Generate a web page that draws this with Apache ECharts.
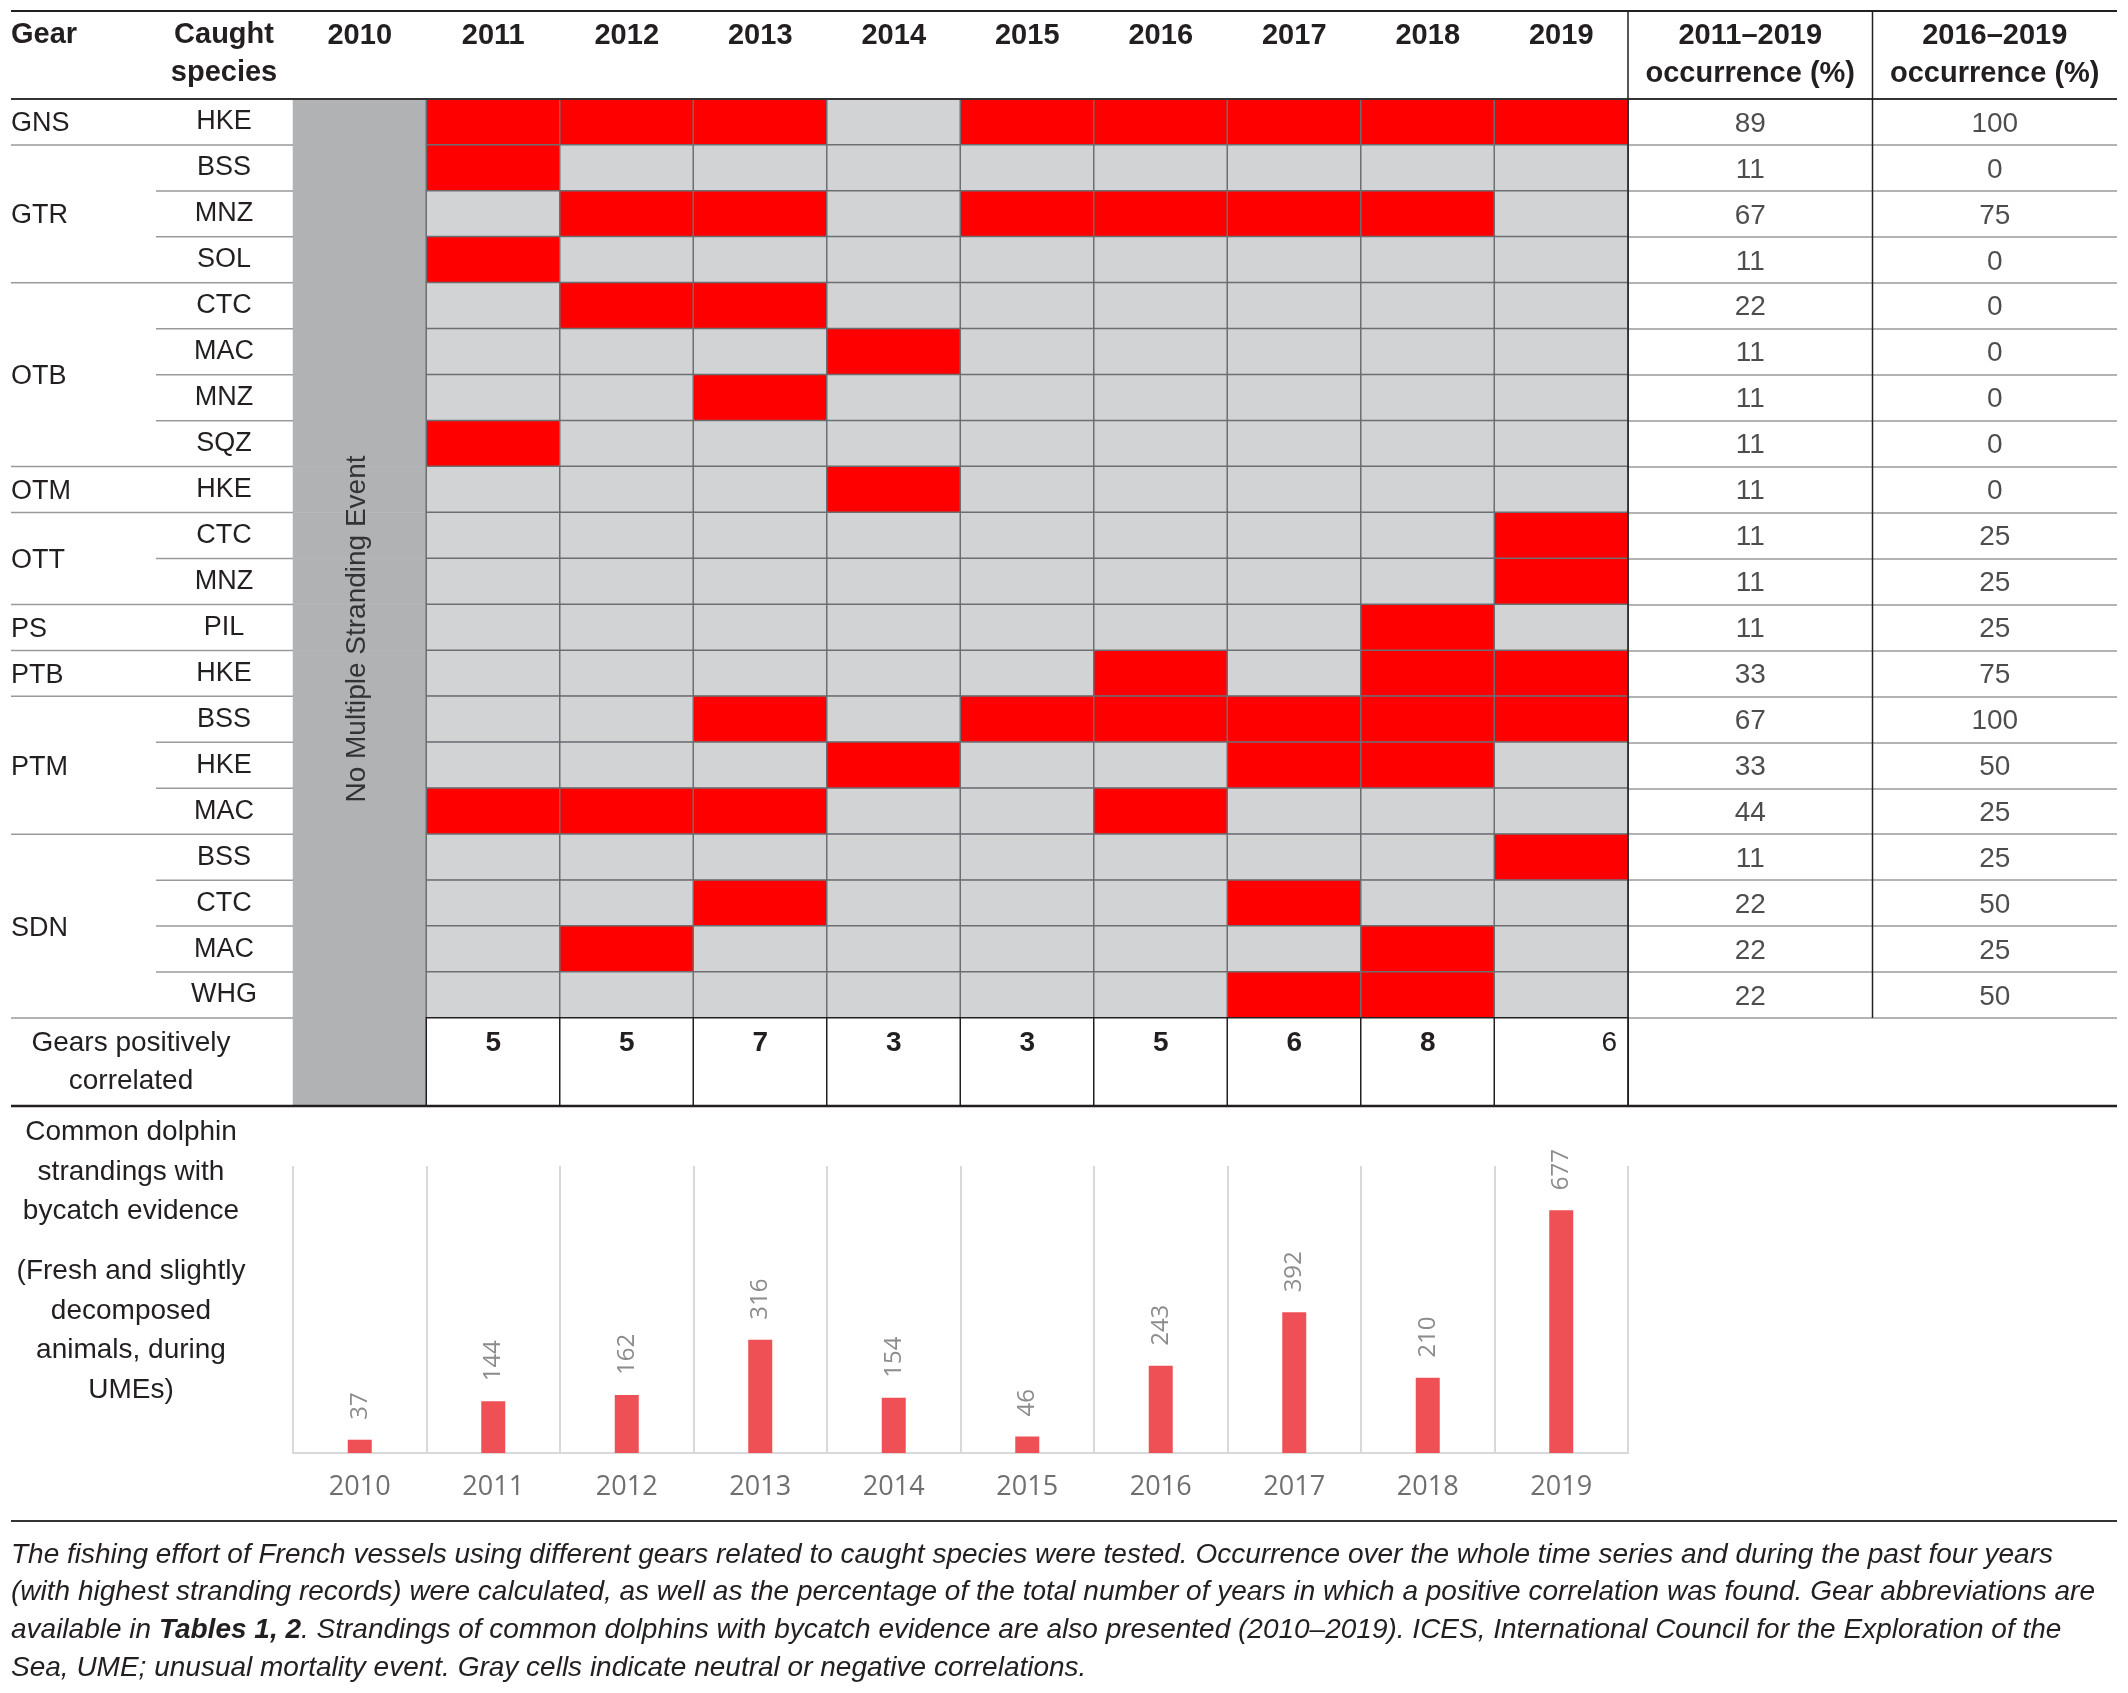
<!DOCTYPE html>
<html>
<head>
<meta charset="utf-8">
<script src="https://cdn.jsdelivr.net/npm/echarts@6/dist/echarts.min.js"></script>
<style>
  html, body { margin: 0; padding: 0; background: #fff; }
  #chart { width: 2128px; height: 1693px; }
</style>
</head>
<body>
<div id="chart"></div>
<script>
// ---- data ----
var years = ['2010', '2011', '2012', '2013', '2014', '2015', '2016', '2017', '2018', '2019'];
var rowGear = ['GNS', 'GTR', 'GTR', 'GTR', 'OTB', 'OTB', 'OTB', 'OTB', 'OTM', 'OTT',
               'OTT', 'PS', 'PTB', 'PTM', 'PTM', 'PTM', 'SDN', 'SDN', 'SDN', 'SDN'];
var rowSpecies = ['HKE', 'BSS', 'MNZ', 'SOL', 'CTC', 'MAC', 'MNZ', 'SQZ', 'HKE', 'CTC',
                  'MNZ', 'PIL', 'HKE', 'BSS', 'HKE', 'MAC', 'BSS', 'CTC', 'MAC', 'WHG'];
// positive correlation (1) or not (0), years 2011..2019
var positive = [
    [1, 1, 1, 0, 1, 1, 1, 1, 1],
    [1, 0, 0, 0, 0, 0, 0, 0, 0],
    [0, 1, 1, 0, 1, 1, 1, 1, 0],
    [1, 0, 0, 0, 0, 0, 0, 0, 0],
    [0, 1, 1, 0, 0, 0, 0, 0, 0],
    [0, 0, 0, 1, 0, 0, 0, 0, 0],
    [0, 0, 1, 0, 0, 0, 0, 0, 0],
    [1, 0, 0, 0, 0, 0, 0, 0, 0],
    [0, 0, 0, 1, 0, 0, 0, 0, 0],
    [0, 0, 0, 0, 0, 0, 0, 0, 1],
    [0, 0, 0, 0, 0, 0, 0, 0, 1],
    [0, 0, 0, 0, 0, 0, 0, 1, 0],
    [0, 0, 0, 0, 0, 1, 0, 1, 1],
    [0, 0, 1, 0, 1, 1, 1, 1, 1],
    [0, 0, 0, 1, 0, 0, 1, 1, 0],
    [1, 1, 1, 0, 0, 1, 0, 0, 0],
    [0, 0, 0, 0, 0, 0, 0, 0, 1],
    [0, 0, 1, 0, 0, 0, 1, 0, 0],
    [0, 1, 0, 0, 0, 0, 0, 1, 0],
    [0, 0, 0, 0, 0, 0, 1, 1, 0]
];
var occHeaders = ['2011\u20132019\noccurrence (%)', '2016\u20132019\noccurrence (%)'];
var occAll = [89, 11, 67, 11, 22, 11, 11, 11, 11, 11, 11, 11, 33, 67, 33, 44, 11, 22, 22, 22];
var occRecent = [100, 0, 75, 0, 0, 0, 0, 0, 0, 25, 25, 25, 75, 100, 50, 25, 25, 50, 25, 50];
var gearsCorrelated = [null, 5, 5, 7, 3, 3, 5, 6, 8, 6];
var strandings = [37, 144, 162, 316, 154, 46, 243, 392, 210, 677];

// ---- layout ----
var FONT = '"Liberation Sans", Arial, Helvetica, sans-serif';
var INK = '#231f20';
var tableLeft = 11, tableRight = 2117, speciesLeft = 156;
var colLeft = 293, colWidth = 1335;
var headTop = 11, headBottom = 99, bodyBottom = 1018, gearsBottom = 1106;
var occLeft = colLeft + colWidth, occWidth = tableRight - occLeft;
var barTop = 1166, barBottom = 1453, captionRule = 1521;

// gear groups (consecutive rows with same gear)
var gearGroups = [];
rowGear.forEach(function (g, i) {
    var last = gearGroups[gearGroups.length - 1];
    if (last && last.name === g) { last.last = i; }
    else { gearGroups.push({ name: g, first: i, last: i }); }
});

var cellData = [];
rowSpecies.forEach(function (s, r) {
    years.forEach(function (y, c) {
        if (c === 0) {
            cellData.push({ value: [c, r, -1], itemStyle: { borderWidth: 0 } });
        } else {
            cellData.push([c, r, positive[r][c - 1]]);
        }
    });
});

var gearsRowData = years.map(function (y, c) {
    if (c === 0) return { value: [0, 0, -1], itemStyle: { borderWidth: 0 } };
    var item = { value: [c, 0, 2] };
    if (c === years.length - 1) {
        item.label = { position: 'insideTopRight', fontWeight: 'normal' };
    }
    return item;
});

var occData = [];
rowSpecies.forEach(function (s, r) {
    occData.push([0, r, occAll[r]]);
    occData.push([1, r, occRecent[r]]);
});

function renderGearLabels(params, api) {
    var g = gearGroups[params.dataIndex];
    var h = api.size([0, 1])[1];
    var w = api.size([1, 0])[0];
    var gridX = api.coord([0, g.first])[0] - w / 2;
    var top = api.coord([0, g.first])[1] - h / 2;
    var bottom = api.coord([0, g.last])[1] + h / 2;
    var children = [{
        type: 'text',
        style: {
            text: g.name, x: tableLeft, y: (top + bottom) / 2 + 2,
            fill: INK, fontSize: 27, fontFamily: FONT,
            align: 'left', verticalAlign: 'middle'
        }
    }];
    for (var r = g.first + 1; r <= g.last; r++) {
        var yy = api.coord([0, r])[1] - h / 2;
        children.push({
            type: 'line',
            shape: { x1: speciesLeft, y1: yy, x2: gridX, y2: yy },
            style: { stroke: '#9a9a9a', lineWidth: 1.5 }
        });
    }
    children.push({
        type: 'line',
        shape: { x1: tableLeft, y1: bottom, x2: gridX, y2: bottom },
        style: { stroke: '#9a9a9a', lineWidth: 1.5 }
    });
    return { type: 'group', children: children };
}

function hline(y, x1, x2, color, width) {
    return { type: 'line', shape: { x1: x1, y1: y, x2: x2, y2: y },
             style: { stroke: color, lineWidth: width }, z: 10 };
}
function vline(x, y1, y2, color, width) {
    return { type: 'line', shape: { x1: x, y1: y1, x2: x, y2: y2 },
             style: { stroke: color, lineWidth: width }, z: 10 };
}
function label(text, x, y, opts) {
    var st = { text: text, x: x, y: y, fill: INK, fontSize: 28, fontFamily: FONT,
               align: 'center', verticalAlign: 'middle', lineHeight: 39 };
    for (var k in opts) st[k] = opts[k];
    return { type: 'text', style: st, z: 10 };
}

var myChart = echarts.init(document.getElementById('chart'));

var option = {
    backgroundColor: '#fff',
    animation: false,
    textStyle: { fontFamily: FONT },
    grid: [
        { left: colLeft, top: headBottom, width: colWidth, height: bodyBottom - headBottom, outerBoundsMode: 'none' },
        { left: colLeft, top: bodyBottom, width: colWidth, height: gearsBottom - bodyBottom, outerBoundsMode: 'none' },
        { left: occLeft, top: headBottom, width: occWidth, height: bodyBottom - headBottom, outerBoundsMode: 'none' },
        { left: colLeft, top: barTop, width: colWidth, height: barBottom - barTop, outerBoundsMode: 'none' }
    ],
    xAxis: [
        {
            gridIndex: 0, type: 'category', data: years, position: 'top',
            axisLine: { show: false }, axisTick: { show: false },
            axisLabel: { interval: 0, fontSize: 29, fontWeight: 'bold', color: INK, margin: 63,
                         verticalAlign: 'middle', fontFamily: FONT }
        },
        { gridIndex: 1, type: 'category', data: years, show: false },
        {
            gridIndex: 2, type: 'category', data: occHeaders, position: 'top',
            axisLine: { show: false }, axisTick: { show: false },
            axisLabel: { interval: 0, hideOverlap: false, fontSize: 29, fontWeight: 'bold',
                         color: INK, margin: 44, verticalAlign: 'middle', lineHeight: 38,
                         fontFamily: FONT }
        },
        {
            gridIndex: 3, type: 'category', data: years,
            axisLine: { lineStyle: { color: '#d9d9d9', width: 2 } },
            axisTick: { show: false },
            splitLine: { show: true, interval: 0, lineStyle: { color: '#d9d9d9', width: 2 } },
            axisLabel: { interval: 0, fontSize: 27, color: '#6f6f6f', margin: 21,
                         fontFamily: '"Open Sans", sans-serif' }
        }
    ],
    yAxis: [
        {
            gridIndex: 0, type: 'category', data: rowSpecies, inverse: true,
            axisLine: { show: false }, axisTick: { show: false },
            axisLabel: { interval: 0, fontSize: 27, color: INK, align: 'center',
                         margin: colLeft - 224, fontFamily: FONT,
                         padding: [4, 0, 0, 0] }
        },
        {
            gridIndex: 1, type: 'category', data: ['Gears positively\ncorrelated'],
            axisLine: { show: false }, axisTick: { show: false },
            axisLabel: { fontSize: 28, color: INK, align: 'center', margin: colLeft - 131,
                         lineHeight: 38, fontFamily: FONT }
        },
        {
            gridIndex: 2, type: 'category', data: rowSpecies, inverse: true,
            axisLine: { show: false }, axisTick: { show: false }, axisLabel: { show: false },
            splitLine: { show: true, interval: 0, lineStyle: { color: '#9a9a9a', width: 1.5 } }
        },
        { gridIndex: 3, type: 'value', min: 0, max: 800, show: false }
    ],
    visualMap: {
        type: 'piecewise', show: false, seriesIndex: [0, 1], dimension: 2,
        pieces: [
            { value: -1, color: '#b1b2b4' },
            { value: 0, color: '#d1d3d4' },
            { value: 1, color: '#ff0000' },
            { value: 2, color: '#ffffff' }
        ]
    },
    series: [
        {
            name: 'correlation', type: 'heatmap', xAxisIndex: 0, yAxisIndex: 0,
            data: cellData,
            itemStyle: { borderColor: '#6d6e71', borderWidth: 1.5 },
            emphasis: { disabled: true }
        },
        {
            name: 'gears', type: 'heatmap', xAxisIndex: 1, yAxisIndex: 1,
            data: gearsRowData,
            itemStyle: { borderColor: INK, borderWidth: 1.5 },
            label: {
                show: true, position: 'insideTop', distance: 12,
                fontSize: 28, fontWeight: 'bold', color: INK, fontFamily: FONT,
                formatter: function (p) {
                    var v = gearsCorrelated[p.value[0]];
                    return v == null ? '' : String(v);
                }
            },
            emphasis: { disabled: true }
        },
        {
            name: 'occurrence', type: 'scatter', xAxisIndex: 2, yAxisIndex: 2,
            data: occData, symbolSize: 1,
            itemStyle: { color: 'rgba(0,0,0,0)' },
            label: {
                show: true, position: 'inside', fontSize: 28, color: INK, fontFamily: FONT,
                offset: [0, 2],
                formatter: function (p) { return String(p.value[2]); }
            },
            emphasis: { disabled: true }
        },
        {
            name: 'gear labels', type: 'custom', xAxisIndex: 0, yAxisIndex: 0,
            data: gearGroups.map(function (g) { return [0, g.first]; }),
            renderItem: renderGearLabels, clip: false, silent: true
        },
        {
            name: 'strandings', type: 'bar', xAxisIndex: 3, yAxisIndex: 3,
            data: strandings, barWidth: 24,
            itemStyle: { color: '#ef5055' },
            label: {
                show: true, position: 'top', rotate: 90, distance: 20,
                align: 'left', verticalAlign: 'middle',
                fontSize: 24, color: '#8c8c8c', fontFamily: '"Open Sans", sans-serif'
            },
            emphasis: { disabled: true }
        }
    ],
    graphic: [
        hline(headTop, tableLeft, tableRight, INK, 2),
        hline(headBottom, tableLeft, tableRight, '#333', 2),
        hline(gearsBottom, tableLeft, tableRight, INK, 2.5),
        hline(captionRule, tableLeft, tableRight, '#333', 2),
        vline(occLeft, headTop, gearsBottom, INK, 1.5),
        vline(occLeft + occWidth / 2, headTop, bodyBottom, INK, 1.5),
        label('Gear', tableLeft, 35, { align: 'left', fontSize: 29, fontWeight: 'bold' }),
        label('Caught\nspecies', 224, 54, { fontSize: 29, fontWeight: 'bold', lineHeight: 38 }),
        {
            type: 'text', x: 357, y: 629, rotation: Math.PI / 2, z: 10,
            style: { text: 'No Multiple Stranding Event', x: 0, y: 0, fill: '#333',
                     fontSize: 28, fontFamily: FONT, align: 'center', verticalAlign: 'middle' }
        },
        label('Common dolphin\nstrandings with\nbycatch evidence', 131, 1172, { lineHeight: 39.5 }),
        label('(Fresh and slightly\ndecomposed\nanimals, during\nUMEs)', 131, 1331, { lineHeight: 39.5 }),
        {
            type: 'text', z: 10,
            style: {
                x: tableLeft, y: 1536, fill: INK, fontSize: 28, fontStyle: 'italic',
                fontFamily: FONT, align: 'left', verticalAlign: 'top', lineHeight: 37.7,
                text: 'The fishing effort of French vessels using different gears related to caught species were tested. Occurrence over the whole time series and during the past four years\n' +
                      '(with highest stranding records) were calculated, as well as the percentage of the total number of years in which a positive correlation was found. Gear abbreviations are\n' +
                      'available in {b|Tables 1, 2}. Strandings of common dolphins with bycatch evidence are also presented (2010\u20132019). ICES, International Council for the Exploration of the\n' +
                      'Sea, UME; unusual mortality event. Gray cells indicate neutral or negative correlations.',
                rich: {
                    b: { fontWeight: 'bold', fontStyle: 'italic', fontSize: 28, fontFamily: FONT,
                         fill: INK, lineHeight: 37.7 }
                }
            }
        }
    ]
};

myChart.setOption(option);
</script>
</body>
</html>
